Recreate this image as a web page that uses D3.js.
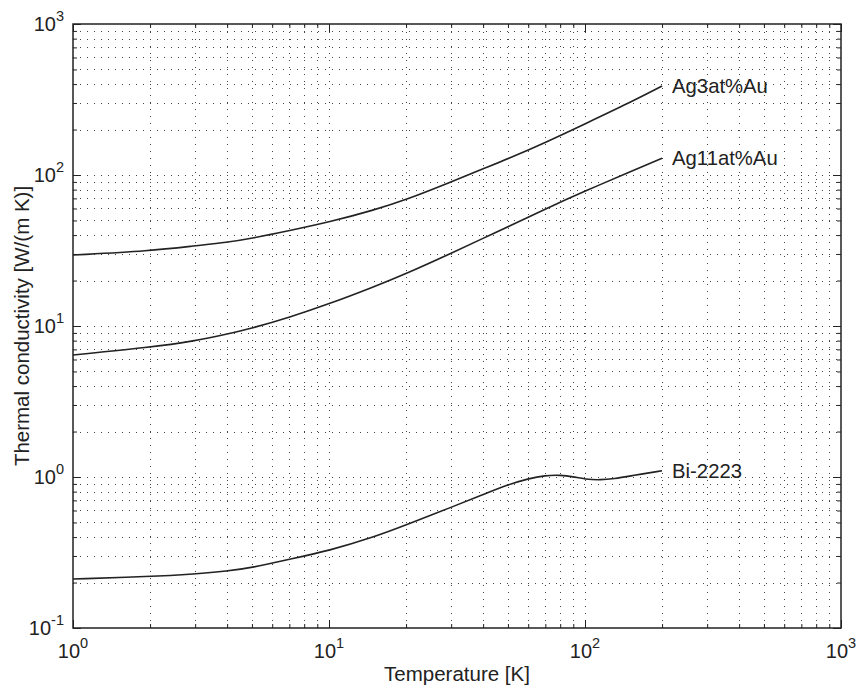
<!DOCTYPE html>
<html><head><meta charset="utf-8">
<script src="https://cdn.jsdelivr.net/npm/d3@7"></script>
<style>body{margin:0;background:#fff}</style>
</head><body><svg id="c" width="858" height="690"></svg>
<script>
// ---- data ----
const xTickExps = ["0", "1", "2", "3"];
const yTickExps = ["-1", "0", "1", "2", "3"];
const tempsAg = [1, 2, 3, 4, 5, 7, 10, 15, 20, 30, 40, 50, 70, 100, 150, 200];
const ag3 = [29.5, 31.4, 34, 35.8, 38.1, 42.8, 48.7, 58.6, 68.5, 90, 110, 128, 164, 218, 302, 388];
const ag11 = [6.43, 7.22, 7.96, 8.85, 9.66, 11.4, 14.0, 18.2, 22.2, 30.3, 38.1, 45.3, 59.6, 78.3, 105, 129];
const tempsBi = [1, 2, 3, 4, 5, 7, 10, 15, 20, 30, 40, 50, 60, 70, 80, 90, 100, 115, 130, 150, 200];
const bi2223 = [0.211, 0.219, 0.228, 0.238, 0.251, 0.285, 0.325, 0.40, 0.481, 0.630, 0.765, 0.89, 0.975, 1.025, 1.03, 1.005, 0.966, 0.955, 0.975, 1.015, 1.10];
const seriesNames = ["Ag3at%Au", "Ag11at%Au", "Bi-2223"];
const xTitle = "Temperature [K]";
const yTitle = "Thermal conductivity [W/(m K)]";

// ---- layout ----
const L = 73, R = 841, T = 24, B = 628;
const font = "'Liberation Sans', Arial, Helvetica, sans-serif";
const ink = "#222";
const svg = d3.select("#c");
const x = d3.scaleLog().domain([1, 1000]).range([L, R]);
const y = d3.scaleLog().domain([0.1, 1000]).range([B, T]);

const isMajor = v => Math.abs(Math.log10(v) - Math.round(Math.log10(v))) < 1e-9;
const xAll = x.ticks(), yAll = y.ticks();
const xMaj = xAll.filter(isMajor), xMin = xAll.filter(v => !isMajor(v));
const yMaj = yAll.filter(isMajor), yMin = yAll.filter(v => !isMajor(v));

// grid (dotted)
const grid = svg.append("g").attr("stroke", "#444").attr("stroke-width", 1).attr("stroke-dasharray", "1,6");
grid.selectAll("line.gx").data(xAll.filter(v => v > 1 && v < 1000)).join("line")
  .attr("x1", d => Math.round(x(d)) + 0.5).attr("x2", d => Math.round(x(d)) + 0.5)
  .attr("y1", B).attr("y2", T);
grid.selectAll("line.gy").data(yAll.filter(v => v > 0.1 && v < 1000)).join("line")
  .attr("y1", d => Math.round(y(d)) + 0.5).attr("y2", d => Math.round(y(d)) + 0.5)
  .attr("x1", L).attr("x2", R);

// ticks via axes (inward)
function addAxis(gen, tx, ty) {
  const g = svg.append("g").attr("transform", `translate(${tx},${ty})`).call(gen);
  g.select(".domain").remove();
  g.selectAll("line").attr("stroke", ink).attr("stroke-width", 1);
  g.selectAll("text").remove();
}
const none = () => "";
addAxis(d3.axisBottom(x).tickValues(xMaj).tickSize(-8).tickFormat(none), 0, B);
addAxis(d3.axisBottom(x).tickValues(xMin).tickSize(-4).tickFormat(none), 0, B);
addAxis(d3.axisTop(x).tickValues(xMaj).tickSize(-8).tickFormat(none), 0, T);
addAxis(d3.axisTop(x).tickValues(xMin).tickSize(-4).tickFormat(none), 0, T);
addAxis(d3.axisLeft(y).tickValues(yMaj).tickSize(-8).tickFormat(none), L, 0);
addAxis(d3.axisLeft(y).tickValues(yMin).tickSize(-4).tickFormat(none), L, 0);
addAxis(d3.axisRight(y).tickValues(yMaj).tickSize(-8).tickFormat(none), R, 0);
addAxis(d3.axisRight(y).tickValues(yMin).tickSize(-4).tickFormat(none), R, 0);

// box
svg.append("rect").attr("x", L).attr("y", T).attr("width", R - L).attr("height", B - T)
  .attr("fill", "none").attr("stroke", ink).attr("stroke-width", 1.5);

// tick labels
const xl = svg.append("g").attr("font-family", font).attr("fill", ink);
xMaj.forEach((v, i) => {
  const t = xl.append("text").attr("x", x(v)).attr("y", B + 30).attr("text-anchor", "middle").attr("font-size", 20);
  t.append("tspan").text("10");
  t.append("tspan").attr("dy", -10).attr("font-size", 14.5).text(xTickExps[i]);
});
yMaj.forEach((v, i) => {
  const t = xl.append("text").attr("x", 64).attr("y", y(v) + 7).attr("text-anchor", "end").attr("font-size", 20);
  t.append("tspan").text("10");
  t.append("tspan").attr("dy", -10).attr("font-size", 14.5).text(yTickExps[i]);
});

// axis titles
xl.append("text").attr("x", (L + R) / 2).attr("y", 681).attr("text-anchor", "middle").attr("font-size", 20.5).text(xTitle);
xl.append("text").attr("transform", `translate(29,${(T + B) / 2}) rotate(-90)`).attr("text-anchor", "middle").attr("font-size", 20.5).text(yTitle);

// curves
const series = [
  {name: seriesNames[0], t: tempsAg, v: ag3},
  {name: seriesNames[1], t: tempsAg, v: ag11},
  {name: seriesNames[2], t: tempsBi, v: bi2223}
];
const line = d3.line().x(d => x(d[0])).y(d => y(d[1])).curve(d3.curveBasis);
series.forEach(s => {
  const pts = s.t.map((t, i) => [t, s.v[i]]);
  svg.append("path").attr("d", line(pts)).attr("fill", "none").attr("stroke", ink).attr("stroke-width", 1.6);
  const last = pts[pts.length - 1];
  xl.append("text").attr("x", x(last[0]) + 10).attr("y", y(last[1]) + 7).attr("font-size", 20.3).text(s.name);
});
</script>
</body></html>
